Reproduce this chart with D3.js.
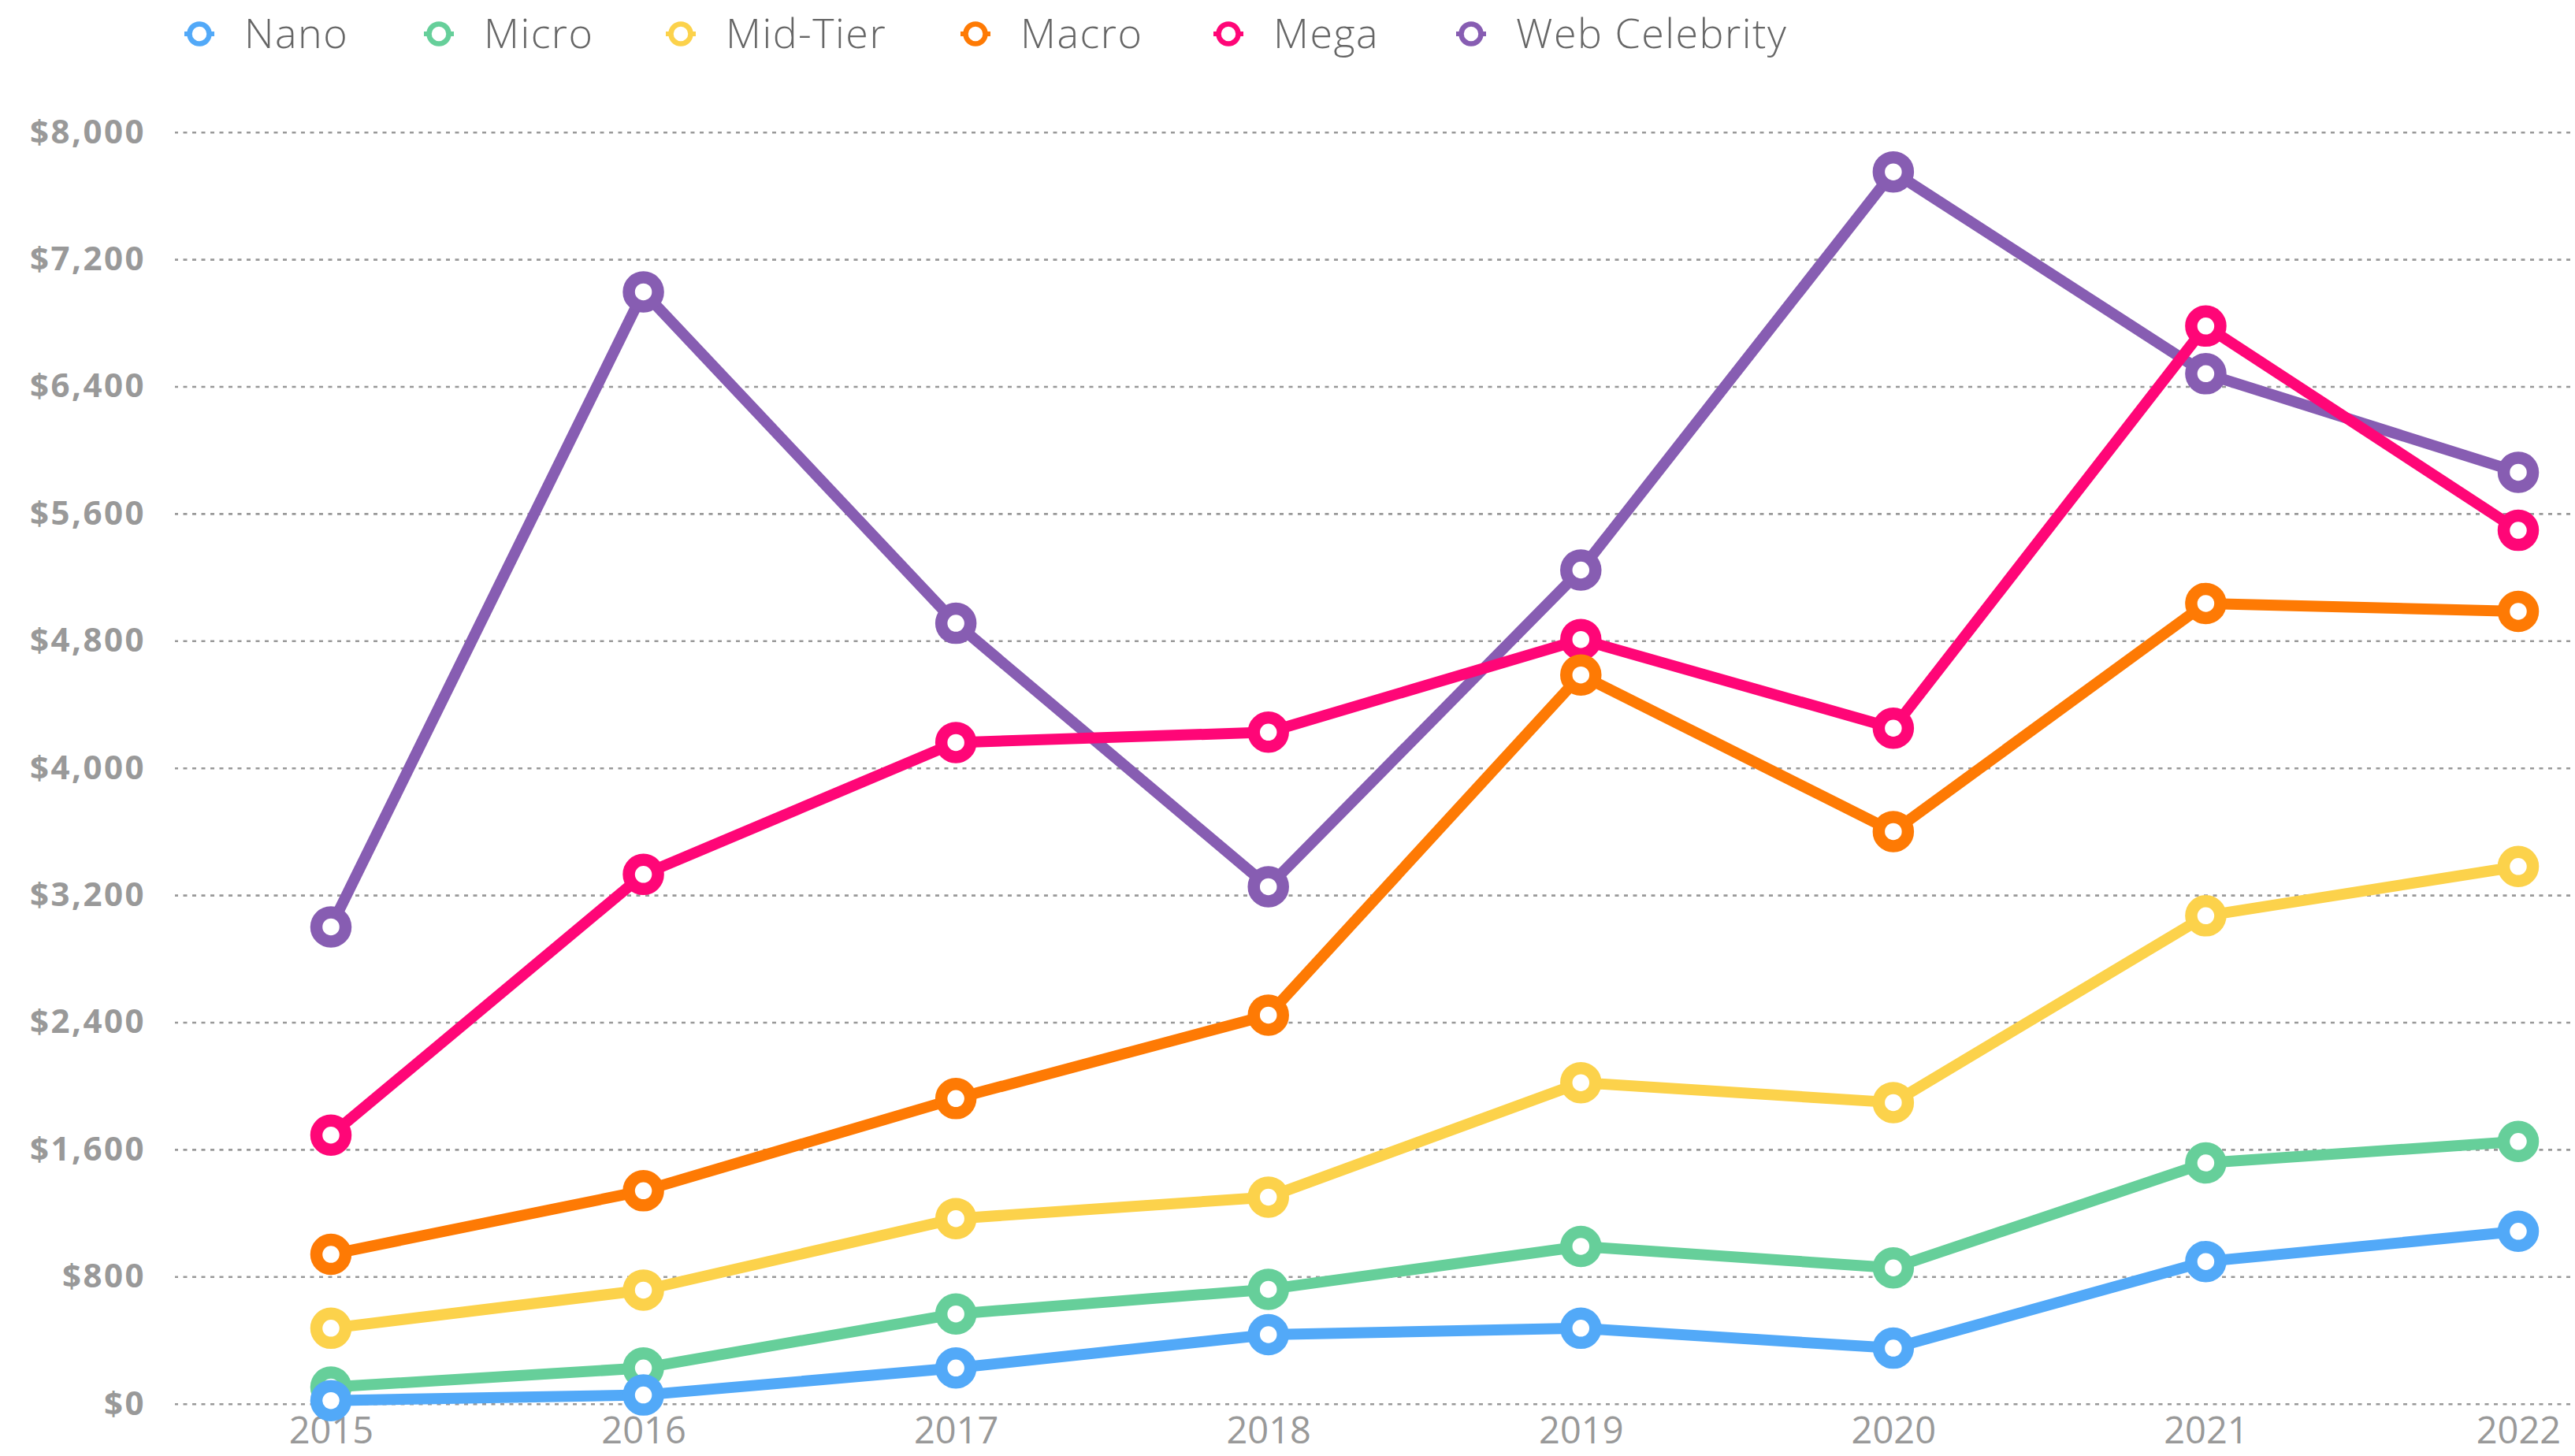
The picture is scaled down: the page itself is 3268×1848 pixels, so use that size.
<!DOCTYPE html>
<html>
<head>
<meta charset="utf-8">
<script src="https://cdn.jsdelivr.net/npm/d3@7"></script>
<style>
  body { margin: 0; background: #fff; }
  svg { display: block; }
  .grid line { stroke: #999; stroke-width: 2.6; stroke-dasharray: 5 6.5; }
  .grid text { fill: #999; font-family: "Open Sans", sans-serif; font-weight: 700; font-size: 42px; letter-spacing: 2.5px; }
  .xaxis text { fill: #999; font-family: "Open Sans", sans-serif; font-weight: 400; font-size: 47px; }
  .legend text { fill: #666; font-family: "Open Sans", sans-serif; font-weight: 300; font-size: 52px; letter-spacing: 1.5px; }
</style>
</head>
<body>
<script>
const years = ["2015", "2016", "2017", "2018", "2019", "2020", "2021", "2022"];
const seriesNames = ["Nano", "Micro", "Mid-Tier", "Macro", "Mega", "Web Celebrity"];
const colors = ["#52a9f8", "#66cf9a", "#fcd24b", "#fe7a04", "#ff0677", "#875db2"];

const nano = [20, 55, 225, 435, 475, 350, 895, 1085];
const micro = [105, 225, 565, 720, 990, 855, 1515, 1650];
const midTier = [475, 715, 1165, 1300, 2020, 1895, 3070, 3380];
const macro = [940, 1340, 1920, 2445, 4585, 3600, 5035, 4985];
const mega = [1690, 3330, 4160, 4225, 4808, 4250, 6780, 5495];
const webCelebrity = [3000, 6995, 4910, 3253, 5245, 7750, 6480, 5860];

const yTicks = [0, 800, 1600, 2400, 3200, 4000, 4800, 5600, 6400, 7200, 8000];

const allSeries = [nano, micro, midTier, macro, mega, webCelebrity];

const width = 3268, height = 1848;
const gridLeft = 222, gridRight = 3262;
// legend marker x positions (layout)
const legendX = [253, 557, 864, 1238, 1559, 1867];

const svg = d3.select("body").append("svg")
    .attr("width", width)
    .attr("height", height);

const x = d3.scalePoint()
    .domain(years)
    .range([420, 3196]);

const y = d3.scaleLinear()
    .domain([0, 8000])
    .range([1781.7, 167.7]);

// gridlines + y labels
const grid = svg.append("g")
    .attr("class", "grid")
    .attr("transform", "translate(" + gridRight + ",0)")
    .call(d3.axisLeft(y)
        .tickValues(yTicks)
        .tickSize(gridRight - gridLeft)
        .tickPadding(37)
        .tickFormat(d => "$" + d3.format(",")(d)));
grid.select(".domain").remove();
grid.selectAll("text").attr("font-size", null).attr("font-family", null).attr("fill", null);

// x labels
const xAxis = svg.append("g")
    .attr("class", "xaxis")
    .attr("transform", "translate(0," + y(0) + ")")
    .call(d3.axisBottom(x).tickSize(0).tickPadding(17));
xAxis.select(".domain").remove();
xAxis.selectAll("text").attr("font-size", null).attr("font-family", null).attr("fill", null);

const line = d3.line()
    .x((d, i) => x(years[i]))
    .y(d => y(d));

// draw last series first so Nano ends up on top
const order = d3.range(allSeries.length).reverse();

order.forEach(k => {
    const g = svg.append("g");
    g.append("path")
        .datum(allSeries[k])
        .attr("d", line)
        .attr("fill", "none")
        .attr("stroke", colors[k])
        .attr("stroke-width", 14)
        .attr("stroke-linejoin", "round");
    g.selectAll("circle")
        .data(allSeries[k])
        .enter().append("circle")
        .attr("cx", (d, i) => x(years[i]))
        .attr("cy", d => y(d))
        .attr("r", 18.5)
        .attr("fill", "#fff")
        .attr("stroke", colors[k])
        .attr("stroke-width", 15.5);
});

// legend
const legend = svg.append("g").attr("class", "legend");
seriesNames.forEach((name, k) => {
    const item = legend.append("g").attr("transform", "translate(" + legendX[k] + ",43)");
    item.append("line")
        .attr("x1", -19).attr("x2", 19)
        .attr("stroke", colors[k])
        .attr("stroke-width", 6);
    item.append("circle")
        .attr("r", 12.5)
        .attr("fill", "#fff")
        .attr("stroke", colors[k])
        .attr("stroke-width", 6.5);
    item.append("text")
        .attr("x", 57)
        .attr("y", 18)
        .text(name);
});
</script>
</body>
</html>
